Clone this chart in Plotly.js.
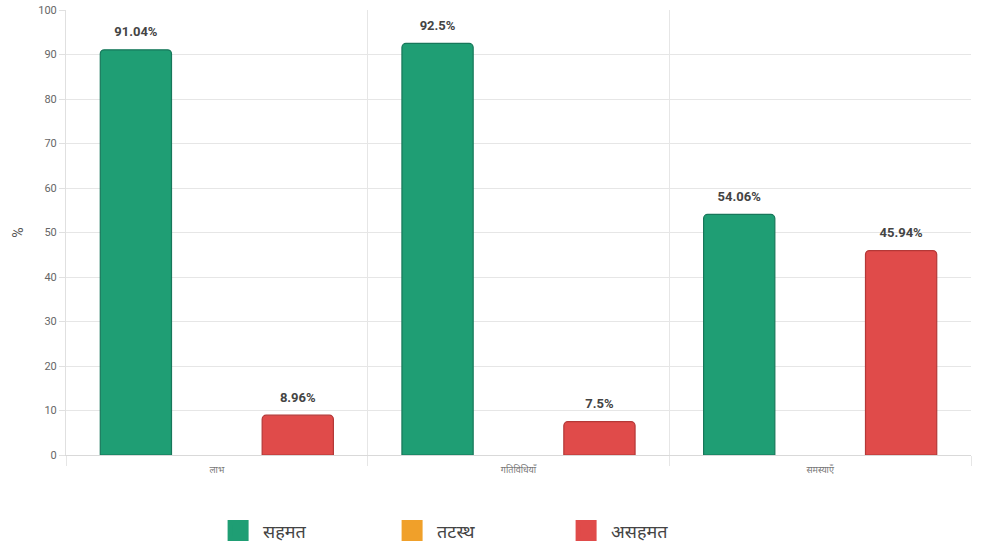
<!DOCTYPE html>
<html>
<head>
<meta charset="utf-8">
<script src="https://cdn.plot.ly/plotly-3.0.1.min.js"></script>
<style>html,body{margin:0;padding:0;background:#fff;}#chart{width:982px;height:545px;}</style>
</head>
<body>
<div id="chart"></div>
<script>
const categories = ['लाभ', 'गतिविधियाँ', 'समस्याएँ'];
const seriesNames = ['सहमत', 'तटस्थ', 'असहमत'];
const agree = [91.04, 92.5, 54.06];
const neutral = [0, 0, 0];
const disagree = [8.96, 7.5, 45.94];
const yTicks = [0, 10, 20, 30, 40, 50, 60, 70, 80, 90, 100];

const fills = ['#1f9e74', '#f0a02a', '#e04b4a'];
const borders = ['#17775a', '#c7821e', '#b43837'];
const values = [agree, neutral, disagree];
const showLabels = [true, false, true];

const traces = [];
values.forEach((vals, i) => {
  traces.push({
    type: 'bar',
    x: categories,
    y: vals,
    name: seriesNames[i],
    legendgroup: seriesNames[i],
    offsetgroup: 'g' + i,
    showlegend: false,
    marker: {
      color: fills[i],
      cornerradius: 4,
      line: {color: borders[i], width: i === 1 ? 0 : 1.2}
    },
    hoverinfo: 'x+y'
  });
});
// value labels, placed through grouped scatter positions
values.forEach((vals, i) => {
  traces.push({
    type: 'scatter',
    mode: 'markers+text',
    x: categories,
    y: vals,
    offsetgroup: 'g' + i,
    legendgroup: seriesNames[i],
    showlegend: false,
    text: vals.map(v => showLabels[i] ? '<b>' + v + '%</b>' : ''),
    textposition: 'top center',
    cliponaxis: false,
    textfont: {family: 'Roboto, Arial, sans-serif', size: 13, color: '#444'},
    marker: {size: 15, opacity: 0},
    hoverinfo: 'skip'
  });
});
seriesNames.forEach((n, i) => {
  traces.push({
    type: 'scatter',
    mode: 'markers',
    x: [null], y: [null],
    name: n,
    legendgroup: n,
    offsetgroup: 'g' + i,
    showlegend: true,
    marker: {symbol: 'square', size: 16, color: fills[i], line: {color: fills[i], width: 5}}
  });
});

const layout = {
  width: 982,
  height: 545,
  margin: {l: 66, r: 11, t: 10, b: 90},
  paper_bgcolor: '#fff',
  plot_bgcolor: '#fff',
  font: {family: 'Roboto, Noto Sans, sans-serif', color: '#666'},
  barmode: 'group',
  bargap: 0.195,
  bargroupgap: 0.12,
  scattermode: 'group',
  scattergap: 0.195,
  xaxis: {
    type: 'category',
    tickson: 'boundaries',
    showgrid: true,
    gridcolor: '#e6e6e6',
    ticks: 'outside',
    ticklen: 10,
    tickcolor: '#e6e6e6',
    showline: true,
    linecolor: '#d9d9d9',
    ticklabelstandoff: 6,
    tickfont: {size: 9, color: '#777'},
    automargin: false,
    fixedrange: true
  },
  yaxis: {
    range: [0, 100],
    tickvals: yTicks,
    showgrid: true,
    gridcolor: '#e6e6e6',
    zeroline: false,
    showline: true,
    linecolor: '#e0e0e0',
    ticks: 'outside',
    ticklen: 6,
    tickcolor: '#e0e0e0',
    tickfont: {size: 11, color: '#666'},
    title: {text: '%', font: {size: 14, color: '#555'}, standoff: 11},
    automargin: false,
    fixedrange: true
  },
  showlegend: true,
  legend: {
    orientation: 'h',
    xref: 'container',
    yref: 'container',
    x: 0.217,
    xanchor: 'left',
    y: 0.026,
    yanchor: 'middle',
    itemsizing: 'trace',
    itemwidth: 40,
    entrywidth: 119,
    font: {size: 18, color: '#444'}
  }
};

Plotly.newPlot('chart', traces, layout, {displayModeBar: false, staticPlot: true});
</script>
</body>
</html>
